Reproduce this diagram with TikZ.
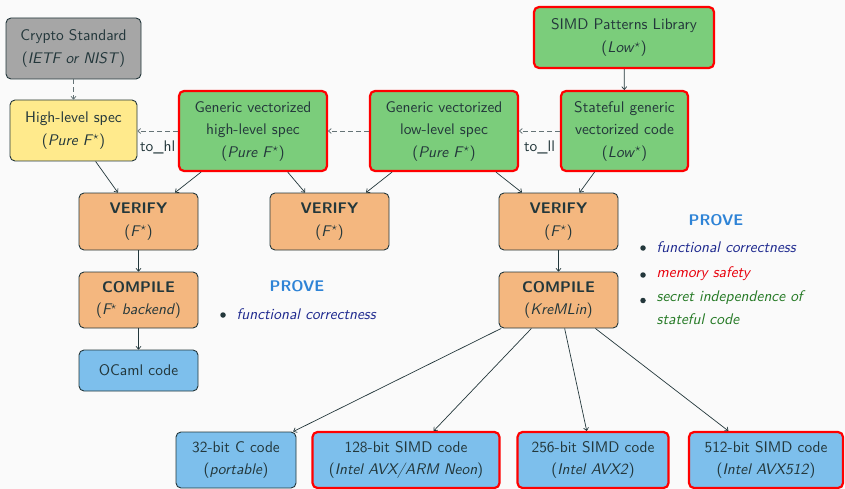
\documentclass[tikz,border=0pt]{standalone}
\usepackage{fontspec}
\setsansfont{lmsans10}[Extension=.otf, UprightFont=*-regular, BoldFont=*-bold,
  ItalicFont=*-oblique, BoldItalicFont=*-boldoblique]
\usetikzlibrary{arrows.meta}

\definecolor{bg}{HTML}{FAFAFA}
\definecolor{ink}{HTML}{23373B}
\definecolor{stdgray}{HTML}{A6A6A6}
\definecolor{specyellow}{HTML}{FFEA8C}
\definecolor{vecgreen}{HTML}{7BCD7B}
\definecolor{steporange}{HTML}{F4B77F}
\definecolor{codeblue}{HTML}{7DBFEC}
\definecolor{provedblue}{HTML}{2E83D6}
\definecolor{funcnavy}{HTML}{1F2A8F}
\definecolor{memred}{HTML}{E8000B}
\definecolor{secgreen}{HTML}{267A26}

\tikzset{
  box/.style={draw=ink, line width=0.9pt, rounded corners=5pt, align=center,
    inner sep=0pt, text=ink},
  redbox/.style={box, draw=red, line width=2.2pt},
  graybox/.style={box, fill=stdgray},
  yellowbox/.style={box, fill=specyellow},
  greenbox/.style={redbox, fill=vecgreen},
  orangebox/.style={box, fill=steporange},
  bluebox/.style={box, fill=codeblue},
  redbluebox/.style={redbox, fill=codeblue},
  arr/.style={draw=ink, line width=0.7pt, -{To[length=3.5pt,width=5.5pt]}},
  dasharr/.style={draw=ink!70, line width=0.8pt, dash pattern=on 4.5pt off 3.5pt,
    -{To[length=3.5pt,width=5.5pt]}},
  arrlabel/.style={text=ink, inner sep=0pt, anchor=north, below=9pt},
  provehead/.style={text=provedblue, font=\sffamily\bfseries\fontsize{15.4}{22.5}\selectfont},
  bulletdot/.style={circle, fill=ink, inner sep=0pt, minimum size=5.5pt},
  itemtext/.style={anchor=west, inner sep=0pt, align=left,
    font=\sffamily\itshape\fontsize{15.4}{23.7}\selectfont},
}

\begin{document}
\begin{tikzpicture}[x=1pt, y=-1pt, font=\sffamily\fontsize{15.4}{22.5}\selectfont]
\fill[bg] (0,0) rectangle (845,489);
\useasboundingbox (0,0) rectangle (845,489);

% specification chain
\node[graybox, minimum width=135pt, minimum height=61pt] (crypto) at (73.5,48.5)
  {Crypto Standard\\(\textit{IETF or NIST})};
\node[yellowbox, minimum width=127pt, minimum height=61pt] (hls) at (73.5,130.5)
  {High-level spec\\(\textit{Pure F}$^{\star}$)};
\node[greenbox, minimum width=148pt, minimum height=80pt] (gvhl) at (253,131)
  {Generic vectorized\\high-level spec\\(\textit{Pure F}$^{\star}$)};
\node[greenbox, minimum width=148pt, minimum height=80pt] (gvll) at (444,131)
  {Generic vectorized\\low-level spec\\(\textit{Pure F}$^{\star}$)};
\node[greenbox, minimum width=127pt, minimum height=80pt] (sgvc) at (624.5,131)
  {Stateful generic\\vectorized code\\(\textit{Low}$^{\star}$)};
\node[greenbox, minimum width=180pt, minimum height=61pt] (simd) at (624,37.5)
  {SIMD Patterns Library\\(\textit{Low}$^{\star}$)};

% verification and compilation steps
\node[orangebox, minimum width=119pt, minimum height=57pt] (ver1) at (138.5,221.5)
  {\textbf{VERIFY}\\(\textit{F}$^{\star}$)};
\node[orangebox, minimum width=119pt, minimum height=57pt] (ver2) at (329.5,221.5)
  {\textbf{VERIFY}\\(\textit{F}$^{\star}$)};
\node[orangebox, minimum width=119pt, minimum height=57pt] (ver3) at (558.5,221.5)
  {\textbf{VERIFY}\\(\textit{F}$^{\star}$)};
\node[orangebox, minimum width=119pt, minimum height=56pt] (comp1) at (138.5,300)
  {\textbf{COMPILE}\\(\textit{F$^{\star}$ backend})};
\node[orangebox, minimum width=119pt, minimum height=56pt] (comp2) at (558.5,300)
  {\textbf{COMPILE}\\(\textit{KreMLin})};

% generated code
\node[bluebox, minimum width=119pt, minimum height=41pt] (ocaml) at (138.5,370.5)
  {OCaml code};
\node[bluebox, minimum width=120pt, minimum height=56pt] (c32) at (236,460)
  {32-bit C code\\(\textit{portable})};
\node[redbluebox, minimum width=187pt, minimum height=56pt] (c128) at (406,460)
  {128-bit SIMD code\\(\textit{Intel AVX/ARM Neon})};
\node[redbluebox, minimum width=151pt, minimum height=56pt] (c256) at (593,460)
  {256-bit SIMD code\\(\textit{Intel AVX2})};
\node[redbluebox, minimum width=154pt, minimum height=56pt] (c512) at (766,460)
  {512-bit SIMD code\\(\textit{Intel AVX512})};

% refinement arrows
\draw[dasharr] (crypto) -- (hls);
\draw[dasharr] (gvhl.west) -- (hls.east |- gvhl.west) node[midway, arrlabel] (lblhl) {to\_hl};
\draw[dasharr] (gvll.west) -- (gvhl.east |- gvll.west);
\draw[dasharr] (sgvc.west) -- (gvll.east |- sgvc.west) node[midway, arrlabel] (lblll) {to\_ll};
\draw[arr] (simd) -- (sgvc);

% into verification
\draw[arr] (hls) -- (ver1);
\draw[arr] (gvhl) -- (ver1);
\draw[arr] (gvhl) -- (ver2);
\draw[arr] (gvll) -- (ver2);
\draw[arr] (gvll) -- (ver3);
\draw[arr] (sgvc) -- (ver3);

% compilation
\draw[arr] (ver1) -- (comp1);
\draw[arr] (comp1) -- (ocaml);
\draw[arr] (ver3) -- (comp2);
\draw[arr] (comp2) -- (c32);
\draw[arr] (comp2) -- (c128);
\draw[arr] (comp2) -- (c256);
\draw[arr] (comp2) -- (c512);

% proof obligations, F* path
\node[provehead] (prove1) at (297,286.5) {PROVE};
\node[bulletdot] (b11) at (223,315) {};
\node[itemtext, text=funcnavy] (t11) at (236.5,314) {functional correctness};

% proof obligations, Low* path
\node[provehead] (prove2) at (716,220) {PROVE};
\node[bulletdot] (b21) at (643,248) {};
\node[itemtext, text=funcnavy] (t21) at (656.5,247) {functional correctness};
\node[bulletdot] (b22) at (643,275) {};
\node[itemtext, text=memred] (t22) at (656.5,274) {memory safety};
\node[bulletdot] (b23) at (643,300.5) {};
\node[itemtext, text=secgreen, anchor=north west] (t23) at (656.5,290)
  {secret independence of\\stateful code};
\end{tikzpicture}
\end{document}
